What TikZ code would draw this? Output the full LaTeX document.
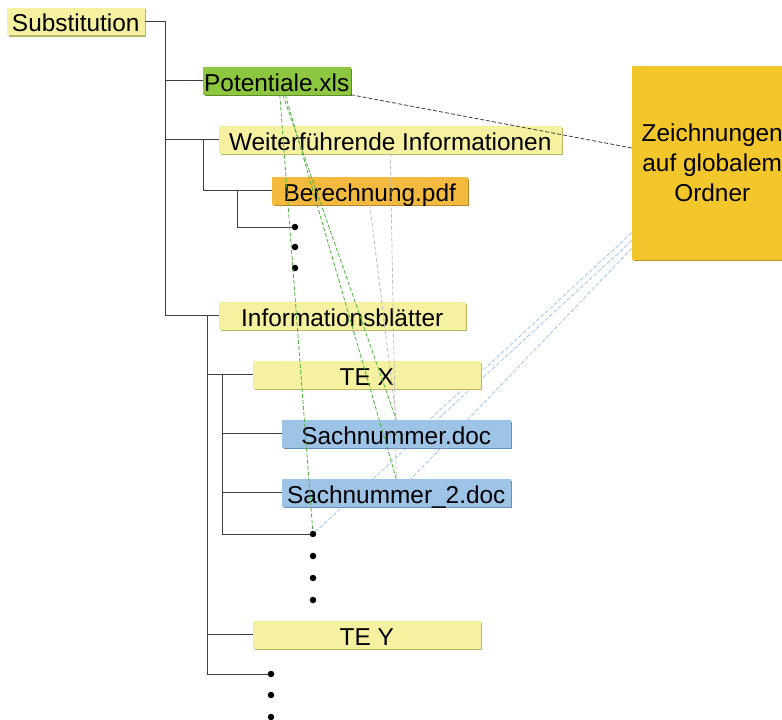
\documentclass[tikz,border=0pt]{standalone}
\usepackage{fontspec}
\setmainfont{Liberation Sans}
\usetikzlibrary{shadows}
\definecolor{paleyellow}{HTML}{F5F1A0}
\definecolor{paleedge}{HTML}{BDB66A}
\definecolor{xlsgreen}{HTML}{8DC63F}
\definecolor{xlsedge}{HTML}{5F8A2A}
\definecolor{pdforange}{HTML}{F3BA3F}
\definecolor{pdfedge}{HTML}{B8862A}
\definecolor{docblue}{HTML}{9DC3E6}
\definecolor{docedge}{HTML}{6C8EB5}
\definecolor{folderyellow}{HTML}{F3C62B}
\definecolor{folderedge}{HTML}{B8922A}
\definecolor{treegray}{HTML}{3F3F3F}
\definecolor{linkgreen}{HTML}{4DB33D}
\definecolor{linkgray}{HTML}{BFBFBF}
\definecolor{linkblue}{HTML}{9CC7EE}
\pgfdeclarelayer{bg}
\pgfsetlayers{bg,main}
\tikzset{
  basebox/.style={inner sep=0pt, font=\fontsize{24.4}{30}\selectfont},
  filebox/.style={basebox, minimum height=27.5pt, text height=21pt, text depth=0pt},
  palebox/.style={filebox, fill=paleyellow, general shadow={fill=paleedge, shadow xshift=1.5pt, shadow yshift=-1.5pt}},
  xlsbox/.style={filebox, fill=xlsgreen, general shadow={fill=xlsedge, shadow xshift=1.5pt, shadow yshift=-1.5pt}},
  pdfbox/.style={filebox, fill=pdforange, general shadow={fill=pdfedge, shadow xshift=1.5pt, shadow yshift=-1.5pt}},
  docbox/.style={filebox, fill=docblue, general shadow={fill=docedge, shadow xshift=1.5pt, shadow yshift=-1.5pt}},
  folderbox/.style={basebox, fill=folderyellow, align=center, general shadow={fill=folderedge, shadow xshift=1.5pt, shadow yshift=-1.5pt}},
  tree/.style={draw=treegray, line width=0.9pt},
  bullet/.style={circle, fill=black, inner sep=0pt, minimum size=6.5pt},
  link/.style={line width=0.8pt, dash pattern=on 4pt off 2pt}
}
\begin{document}
\begin{tikzpicture}[x=1pt, y=-1pt]
        \useasboundingbox (0,0) rectangle (782,720);

        % Draw the file and folder boxes
        \node[palebox, minimum width=137.5pt] (sub) at (75.75,21.25) {Substitution};
        \node[xlsbox, minimum width=147.5pt] (pot) at (276.75,80.75) {Potentiale.xls};
        \node[palebox, minimum width=342.5pt] (wei) at (390.25,139.75) {Weiterführende Informationen};
        \node[pdfbox, minimum width=195.5pt] (ber) at (369.75,190.75) {Berechnung.pdf};
        \node[palebox, minimum width=246.5pt] (inf) at (342.25,315.75) {Informationsblätter};
        \node[palebox, minimum width=227.5pt] (tex) at (366.75,374.75) {TE X};
        \node[docbox, minimum width=228.5pt] (sa1) at (396.25,433.75) {Sachnummer.doc};
        \node[docbox, minimum width=228.5pt] (sa2) at (396.25,492.75) {Sachnummer\_2.doc};
        \node[palebox, minimum width=227.5pt] (tey) at (366.75,634.75) {TE Y};

        % Global folder, cut at the right edge
        \node[folderbox, minimum width=160.5pt, minimum height=193.5pt] (zei) at (712.25,162.75)
          {Zeichnungen\\auf globalem\\Ordner};

        % Dots for further entries
        \foreach \n/\y in {1/227,2/247,3/268}
          \node[bullet] (d\n) at (295,\y) {};
        \foreach \n/\y in {1/534,2/556,3/578,4/600}
          \node[bullet] (f\n) at (313,\y) {};
        \foreach \n/\y in {1/674,2/695,3/717}
          \node[bullet] (e\n) at (271,\y) {};

        % Vertical lines of the tree
        \coordinate (s1) at (165,0);
        \coordinate (s2) at (203,0);
        \coordinate (s3) at (237,0);
        \coordinate (s4) at (207,0);
        \coordinate (s5) at (222,0);

        % Draw the tree
        \draw[tree] (sub.east) -- (sub.east -| s1) |- (inf.west);
        \draw[tree] (pot.west) -- (pot.west -| s1);
        \draw[tree] (wei.west) -- (wei.west -| s1);
        \draw[tree] (wei.west -| s2) |- (ber.west);
        \draw[tree] (ber.west -| s3) |- (d1);
        \draw[tree] (inf.west -| s4) |- (e1);
        \draw[tree] (tex.west) -- (tex.west -| s4);
        \draw[tree] (tey.west) -- (tey.west -| s4);
        \draw[tree] (tex.west -| s5) |- (f1);
        \draw[tree] (sa1.west) -- (sa1.west -| s5);
        \draw[tree] (sa2.west) -- (sa2.west -| s5);

        % Links from the global folder (behind the boxes)
        \begin{pgfonlayer}{bg}
          \draw[link, linkblue] ([yshift=-70pt]zei.west) -- ([xshift=18pt]sa1.center);
          \draw[link, linkblue] ([yshift=-78pt]zei.west) -- (f1);
          \draw[link, linkblue] ([yshift=-85.5pt]zei.west) -- ([xshift=15pt]sa2.north);
        \end{pgfonlayer}

        % Links from Potentiale.xls
        \draw[link, treegray] (pot.south east) -- ([yshift=14.75pt]zei.west);
        \draw[link, linkgreen] ([xshift=3pt]pot.south) -- (f1);
        \draw[link, linkgreen] ([xshift=6pt]pot.south) -- (sa1.north);
        \draw[link, linkgreen] ([xshift=8.5pt]pot.south) -- (sa2.north);

        % Links from the information folders
        \draw[link, linkgray] (wei.south) -- (sa2.north);
        \draw[link, linkgray] (ber.south) -- (sa1.north);
\end{tikzpicture}
\end{document}
